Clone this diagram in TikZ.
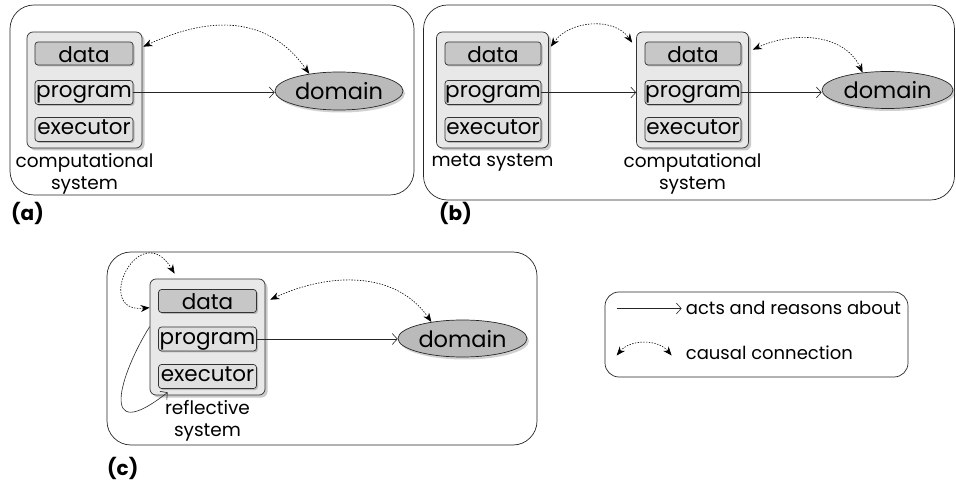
\documentclass[tikz,border=0pt]{standalone}
\usepackage{fontspec}
\setmainfont{Poppins}
\usetikzlibrary{shapes.geometric,shadows,arrows.meta}
\tikzset{
  panel/.style={draw=black!85, line width=0.7pt, rounded corners=24pt, inner sep=0pt},
  sysbox/.style={draw=black!80, line width=0.7pt, fill=black!9, rounded corners=6pt, inner sep=0pt,
    minimum width=115pt, minimum height=116pt,
    drop shadow={shadow xshift=2.5pt, shadow yshift=-2.5pt, opacity=0.35, fill=black!60}},
  inbox/.style={draw=black!80, line width=0.7pt, rounded corners=3pt, inner sep=0pt,
    minimum width=98pt, minimum height=24pt, font=\fontsize{21.5}{23}\selectfont,
    drop shadow={shadow xshift=1.5pt, shadow yshift=-1.5pt, opacity=0.35, fill=black!60}},
  databox/.style={inbox, fill=black!22, text height=18pt, text depth=0pt},
  progbox/.style={inbox, fill=black!12, text height=11pt, text depth=0pt},
  execbox/.style={inbox, fill=black!12, text height=10pt, text depth=0pt},
  dom/.style={ellipse, draw=black!85, line width=0.7pt, fill=black!27, inner sep=0pt,
    minimum width=128pt, minimum height=38pt, font=\fontsize{22.5}{24}\selectfont,
    text height=18pt, text depth=0pt,
    drop shadow={shadow xshift=2pt, shadow yshift=-2.5pt, opacity=0.3, fill=black!60}},
  lbl/.style={align=center, font=\fontsize{18.5}{21.5}\selectfont, inner sep=0pt},
  lgd/.style={font=\fontsize{18}{21}\selectfont, inner sep=0pt, anchor=west},
  tag/.style={font=\fontsize{20}{22}\selectfont\bfseries, inner sep=0pt, anchor=west},
  act/.style={draw=black!85, line width=0.6pt, -{Straight Barb[length=5pt,width=11pt]}},
  causal/.style={draw=black, line width=0.6pt, dash pattern=on 1.4pt off 1.4pt,
    {Stealth[length=9pt,width=7pt]}-{Stealth[length=9pt,width=7pt]}},
}
\begin{document}
\begin{tikzpicture}[x=1pt,y=1pt]
\useasboundingbox (0,0) rectangle (956,485);
% ---------- panel (a)
\node[panel, minimum width=404pt, minimum height=190pt] (pa) at (212,385) {};
\node[sysbox] (sysA) at (84.5,395) {};
\node[databox, minimum height=23pt] (dataA) at (84,431.5) {data};
\node[progbox] (progA) at (84,392.5) {program};
\node[execbox] (execA) at (84,355.5) {executor};
\node[lbl, anchor=north] (lblA) at ([yshift=-5pt]sysA.south) {computational\\system};
\node[dom] (domA) at (339,394) {domain};
\draw[act] (progA.east) -- (progA.east -| domA.west);
\coordinate (ca) at ([xshift=1pt,yshift=-15pt]sysA.north east);
\draw[causal] (ca) to[out=25,in=125,looseness=1.1] (domA.150);
\node[tag] (ta) at (11,272) {(a)};
% ---------- panel (b)
\node[panel, minimum width=531pt, minimum height=195pt] (pb) at (689,382.5) {};
\node[sysbox, minimum width=112pt] (sysM) at (492.5,395) {};
\node[databox, minimum width=96pt, minimum height=23pt] (dataM) at (493,431.5) {data};
\node[progbox, minimum width=96pt] (progM) at (493,392.5) {program};
\node[execbox, minimum width=96pt] (execM) at (493,355.5) {executor};
\node[lbl, anchor=north] (lblM) at ([yshift=-5pt]sysM.south) {meta system};
\node[sysbox, minimum width=112pt] (sysB) at (692.5,395) {};
\node[databox, minimum width=96pt, minimum height=23pt] (dataB) at (693,431.5) {data};
\node[progbox, minimum width=96pt] (progB) at (693,392.5) {program};
\node[execbox, minimum width=96pt] (execB) at (693,355.5) {executor};
\node[lbl, anchor=north] (lblB) at ([yshift=-5pt]sysB.south) {computational\\system};
\node[dom, minimum width=131pt, minimum height=37pt] (domB) at (887.5,395) {domain};
\draw[act] (progM.east) -- (progM.east -| sysB.west);
\draw[act] (progB.east) -- (progB.east -| domB.west);
\coordinate (cm) at ([xshift=2pt,yshift=-15pt]sysM.north east);
\coordinate (cb1) at ([xshift=-4pt,yshift=-11pt]sysB.north west);
\coordinate (cb2) at ([xshift=4pt,yshift=-18pt]sysB.north east);
\draw[causal] (cm) to[out=55,in=125] (cb1);
\draw[causal] (cb2) to[out=25,in=115] (domB.145);
\node[tag] (tb) at (439,272) {(b)};
% ---------- panel (c)
\node[panel, minimum width=430pt, minimum height=193pt] (pc) at (322,136.5) {};
\node[sysbox] (sysC) at (207.5,148) {};
\node[databox, minimum height=23pt] (dataC) at (207.5,184) {data};
\node[progbox] (progC) at (207.5,146) {program};
\node[execbox] (execC) at (207.5,108.5) {executor};
\node[lbl, anchor=north] (lblC) at ([yshift=-5pt]sysC.south) {reflective\\system};
\node[dom, minimum width=129pt, minimum height=37pt] (domC) at (462.5,146.5) {domain};
\draw[act] (progC.east) -- (progC.east -| domC.west);
\coordinate (cc1) at ([xshift=5pt,yshift=-21pt]sysC.north east);
\draw[causal] (cc1) to[out=25,in=125] (domC.152);
\coordinate (cs1) at ([yshift=-29pt]sysC.north west);
\coordinate (cs2) at ([xshift=25pt,yshift=5pt]sysC.north west);
\draw[causal] (cs1) .. controls +(-58,-6) and +(-35,58) .. (cs2);
\coordinate (cl1) at ([yshift=-48pt]sysC.north west);
\coordinate (cl2) at ([xshift=18pt,yshift=3pt]sysC.south west);
\draw[act] (cl1) .. controls +(-30,-48) and +(-70,-55) .. (cl2);
\node[tag] (tc) at (107,17) {(c)};
% ---------- legend
\node[panel, rounded corners=14pt, minimum width=303pt, minimum height=85pt] (leg) at (756.5,150.5) {};
\coordinate (l1) at ([xshift=12pt,yshift=26pt]leg.west);
\coordinate (l2) at ([xshift=77pt,yshift=26pt]leg.west);
\draw[act] (l1) -- (l2);
\node[lgd] (lt1) at ([xshift=4pt,yshift=1pt]l2) {acts and reasons about};
\coordinate (l3) at ([xshift=12pt,yshift=-21pt]leg.west);
\coordinate (l4) at ([xshift=67pt,yshift=-21pt]leg.west);
\draw[causal] (l3) to[out=50,in=130] (l4);
\node[lgd] (lt2) at ([xshift=14pt,yshift=3pt]l4) {causal connection};
\end{tikzpicture}
\end{document}
